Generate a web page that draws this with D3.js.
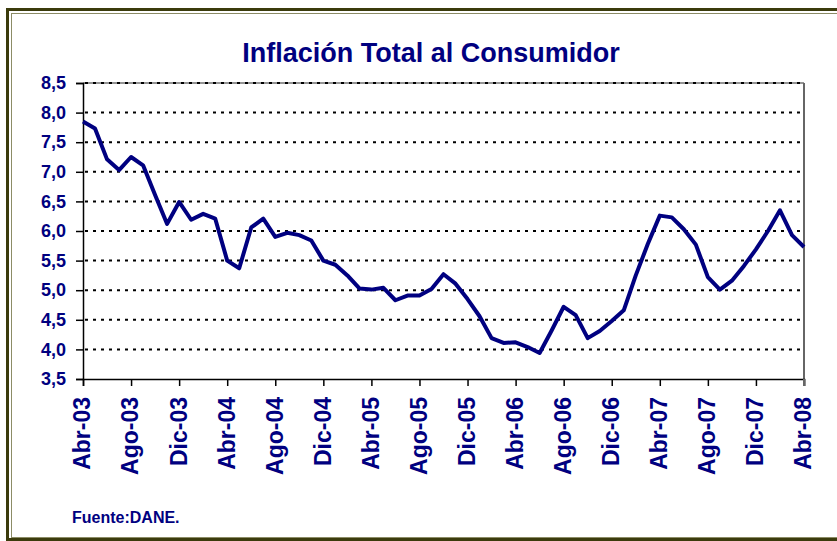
<!DOCTYPE html>
<html>
<head>
<meta charset="utf-8">
<script src="https://cdn.jsdelivr.net/npm/d3@7"></script>
<style>
  body { margin: 0; background: #ffffff; }
  text { font-family: "Liberation Sans", Arial, sans-serif; font-weight: bold; fill: #000080; }
</style>
</head>
<body>
<div id="chart"></div>
<script>
// Monthly inflation, Abr-03 .. Abr-08
const months = ["Abr-03","May-03","Jun-03","Jul-03","Ago-03","Sep-03","Oct-03","Nov-03","Dic-03",
  "Ene-04","Feb-04","Mar-04","Abr-04","May-04","Jun-04","Jul-04","Ago-04","Sep-04","Oct-04","Nov-04","Dic-04",
  "Ene-05","Feb-05","Mar-05","Abr-05","May-05","Jun-05","Jul-05","Ago-05","Sep-05","Oct-05","Nov-05","Dic-05",
  "Ene-06","Feb-06","Mar-06","Abr-06","May-06","Jun-06","Jul-06","Ago-06","Sep-06","Oct-06","Nov-06","Dic-06",
  "Ene-07","Feb-07","Mar-07","Abr-07","May-07","Jun-07","Jul-07","Ago-07","Sep-07","Oct-07","Nov-07","Dic-07",
  "Ene-08","Feb-08","Mar-08","Abr-08"];
const inflation = [7.85,7.73,7.21,7.03,7.25,7.11,6.61,6.12,6.49,
  6.19,6.29,6.21,5.50,5.37,6.06,6.21,5.90,5.97,5.93,5.84,5.50,
  5.43,5.25,5.03,5.01,5.04,4.83,4.91,4.91,5.02,5.27,5.11,4.85,
  4.56,4.19,4.11,4.12,4.04,3.94,4.32,4.72,4.58,4.19,4.31,4.48,
  4.66,5.25,5.78,6.26,6.23,6.03,5.77,5.22,5.01,5.16,5.41,5.69,
  6.00,6.35,5.93,5.73];
const yTicks = [3.5,4.0,4.5,5.0,5.5,6.0,6.5,7.0,7.5,8.0,8.5];

const width = 837, height = 541;
const plotLeft = 83, plotRight = 804, plotTop = 83, plotBottom = 379;

const svg = d3.select("#chart").append("svg")
    .attr("width", width)
    .attr("height", height);

// outer frame (double olive border)
svg.append("rect").attr("x", 7.5).attr("y", 9.5).attr("width", 850).attr("height", 530)
    .attr("fill", "none").attr("stroke", "#3b3b0c").attr("stroke-width", 3);
svg.append("rect").attr("x", 11.5).attr("y", 13.5).attr("width", 840).attr("height", 524)
    .attr("fill", "none").attr("stroke", "#8c8c66").attr("stroke-width", 1);

const x = d3.scaleLinear().domain([0, months.length - 1]).range([plotLeft, plotRight]);
const y = d3.scaleLinear().domain([3.5, 8.5]).range([plotBottom, plotTop]);

// title
svg.append("text")
    .attr("x", 431).attr("y", 62)
    .attr("text-anchor", "middle")
    .attr("font-size", "27px")
    .text("Inflación Total al Consumidor");

// plot border (top and right, gray)
svg.append("line").attr("x1", plotLeft).attr("x2", plotRight).attr("y1", plotTop).attr("y2", plotTop)
    .attr("stroke", "#707070").attr("stroke-width", 1.5);
svg.append("line").attr("x1", plotRight).attr("x2", plotRight).attr("y1", plotTop).attr("y2", plotBottom)
    .attr("stroke", "#666666").attr("stroke-width", 2);

// dotted gridlines
svg.append("g")
  .selectAll("line")
  .data(yTicks.filter(d => d > 3.5))
  .join("line")
    .attr("x1", plotLeft + 2).attr("x2", plotRight - 1)
    .attr("y1", d => y(d)).attr("y2", d => y(d))
    .attr("stroke", "#000000")
    .attr("stroke-width", 2)
    .attr("stroke-dasharray", "3,5");

// y axis
const yAxis = d3.axisLeft(y)
    .tickValues(yTicks)
    .tickSize(7)
    .tickPadding(10)
    .tickFormat(d => d3.format(".1f")(d).replace(".", ","));
const gy = svg.append("g").attr("transform", `translate(${plotLeft},0)`).call(yAxis);
gy.select(".domain").attr("stroke", "#000").attr("stroke-width", 1.5);
gy.selectAll(".tick line").attr("stroke", "#000").attr("stroke-width", 1.5);
gy.selectAll(".tick text")
    .attr("font-size", "18px")
    .attr("font-family", "'Liberation Sans', Arial, sans-serif")
    .attr("fill", "#000080");

// x axis, a tick every four months
const xAxis = d3.axisBottom(x)
    .tickValues(d3.range(0, months.length, 4))
    .tickSize(7)
    .tickFormat(i => months[i]);
const gx = svg.append("g").attr("transform", `translate(0,${plotBottom})`).call(xAxis);
gx.select(".domain").attr("stroke", "#000").attr("stroke-width", 1.5);
gx.selectAll(".tick line").attr("stroke", "#000").attr("stroke-width", 1.5);
gx.selectAll(".tick text")
    .attr("font-size", "23px")
    .attr("font-family", "'Liberation Sans', Arial, sans-serif")
    .attr("fill", "#000080")
    .attr("text-anchor", "end")
    .attr("dy", "0.3em")
    .attr("transform", "translate(0,18) rotate(-90)")
    .attr("x", 0).attr("y", 0);
// right end tick below the border
svg.append("line").attr("x1", plotRight).attr("x2", plotRight).attr("y1", plotBottom).attr("y2", plotBottom + 7)
    .attr("stroke", "#666666").attr("stroke-width", 2);

// series line
const line = d3.line()
    .x((d, i) => x(i))
    .y(d => y(d));
svg.append("path")
    .datum(inflation)
    .attr("fill", "none")
    .attr("stroke", "#000080")
    .attr("stroke-width", 4)
    .attr("stroke-linejoin", "round")
    .attr("d", line);

// source note
svg.append("text")
    .attr("x", 72).attr("y", 523)
    .attr("font-size", "16px")
    .text("Fuente:DANE.");
</script>
</body>
</html>
